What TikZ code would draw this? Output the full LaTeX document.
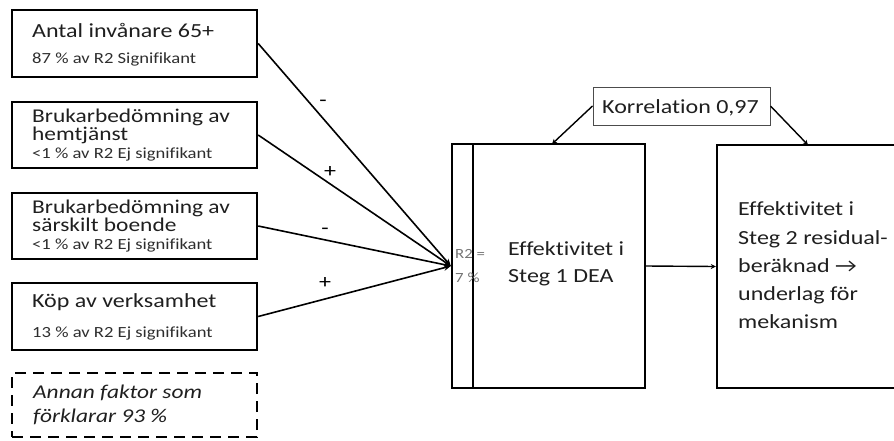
\documentclass[tikz,border=0pt]{standalone}
\usepackage{fontspec}
\setmainfont{Carlito}[FakeStretch=1.2,Ligatures=NoCommon]
\usetikzlibrary{arrows.meta}
\begin{document}
\begin{tikzpicture}[x=1pt,y=-1pt,
  box/.style={draw,line width=2.4pt,rectangle,inner sep=0pt,minimum width=245pt},
  bigbox/.style={draw,line width=2.4pt,rectangle,inner sep=0pt},
  dbox/.style={box,dash pattern=on 11pt off 7pt},
  lbl/.style={anchor=base west,inner sep=0pt,font=\fontsize{20}{20}\selectfont,text=black!88},
  blbl/.style={anchor=base west,inner sep=0pt,font=\fontsize{19.5}{19.5}\selectfont,text=black!88},
  sml/.style={anchor=base west,inner sep=0pt,font=\fontsize{15.5}{15.5}\selectfont,text=black!82},
  ital/.style={anchor=base west,inner sep=0pt,font=\fontsize{19.5}{19.5}\selectfont\itshape,text=black!88},
  r2/.style={anchor=base west,inner sep=0pt,font=\fontsize{14}{14}\selectfont,text=black!55},
  sign/.style={inner sep=0pt,font=\fontsize{20}{20}\selectfont},
  conn/.style={line width=1.6pt,-{Stealth[length=7pt,width=6pt]}},
  thin/.style={line width=1.4pt,-{Stealth[length=5pt,width=5pt]}}
]
\useasboundingbox (0,0) rectangle (894,440);
% left boxes
\node[box,minimum height=67pt] (b1) at (134.5,43.5) {};
\node[box,minimum height=66pt] (b2) at (134.5,135) {};
\node[box,minimum height=66pt] (b3) at (134.5,226) {};
\node[box,minimum height=67pt] (b4) at (134.5,316.5) {};
\node[dbox,minimum height=64pt] (b5) at (134.5,405) {};
\node[lbl] (t1a) at (32,37) {Antal invånare 65+};
\node[sml] (t1b) at (32,63) {87 \% av R2 Signifikant};
\node[blbl] (t2a) at (32,122.5) {Brukarbedömning av};
\node[blbl] (t2b) at (32,140.5) {hemtjänst};
\node[sml] (t2c) at (32,158) {<1 \% av R2 Ej signifikant};
\node[blbl] (t3a) at (32,213.5) {Brukarbedömning av};
\node[blbl] (t3b) at (32,231.5) {särskilt boende};
\node[sml] (t3c) at (32,249) {<1 \% av R2 Ej signifikant};
\node[lbl] (t4a) at (32,307) {Köp av verksamhet};
\node[sml] (t4b) at (32,337) {13 \% av R2 Ej signifikant};
\node[ital] (t5a) at (33,398) {Annan faktor som};
\node[ital] (t5b) at (33,422) {förklarar 93 \%};
% big boxes
\node[bigbox,minimum width=193pt,minimum height=244pt] (s1) at (548.5,266) {};
\coordinate (s1i) at (473,144);
\draw[line width=2.4pt] (s1i) -- (473,388);
\node[bigbox,minimum width=190pt,minimum height=243pt] (s2) at (812,266.5) {};
\node[r2] (r2a) at (455,258) {R2 =};
\node[r2] (r2b) at (455,282) {7 \%};
\node[lbl] (s1a) at (508,255) {Effektivitet i};
\node[lbl] (s1b) at (508,282) {Steg 1 DEA};
\node[lbl] (s2a) at (738,215) {Effektivitet i};
\node[lbl] (s2b) at (738,244) {Steg 2 residual-};
\node[lbl] (s2c) at (738,272) {beräknad →};
\node[lbl] (s2d) at (738,300) {underlag för};
\node[lbl] (s2e) at (738,328) {mekanism};
% korrelation
\node[draw=black!70,line width=1pt,rectangle,inner sep=0pt,minimum width=177pt,minimum height=38pt] (k) at (681.5,106) {};
\node[lbl] (kt) at (602,113) {Korrelation 0,97};
\coordinate (k1) at (552,144);
\coordinate (k2) at (808,145);
\draw[thin] (k.west) -- (k1);
\draw[thin] (k.east) -- (k2);
% connectors
\draw[conn] (b1.east) -- (s1.west);
\draw[conn] (b2.east) -- (s1.west);
\draw[conn] (b3.east) -- (s1.west);
\draw[conn] (b4.east) -- (s1.west);
\draw[thin] (s1.east) -- (s2.west);
\node[sign] (m1) at (323,103) {-};
\node[sign] (p1) at (330,172) {+};
\node[sign] (m2) at (325,231) {-};
\node[sign] (p2) at (325,283) {+};
\end{tikzpicture}
\end{document}
